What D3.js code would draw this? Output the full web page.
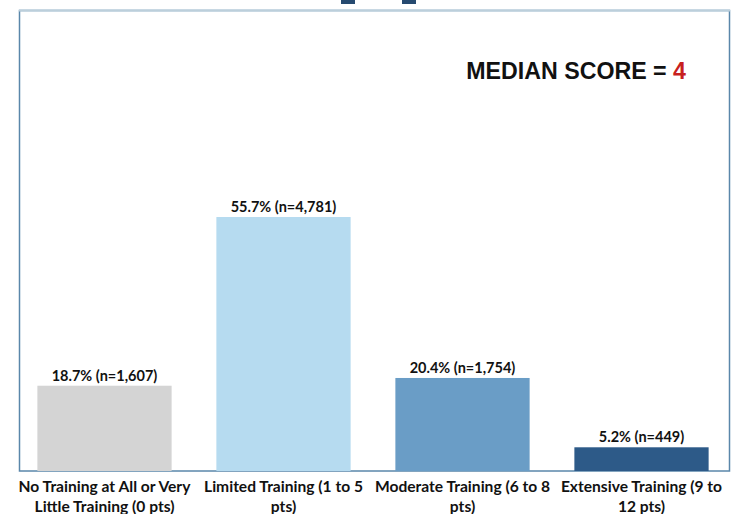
<!DOCTYPE html>
<html>
<head>
<meta charset="utf-8">
<script src="https://cdn.jsdelivr.net/npm/d3@7"></script>
<style>
  body { margin: 0; background: #fff; }
  svg { display: block; }
</style>
</head>
<body>
<div id="chart"></div>
<script>
// Chart data
const categories = ["No Training at All or Very Little Training (0 pts)", "Limited Training (1 to 5 pts)", "Moderate Training (6 to 8 pts)", "Extensive Training (9 to 12 pts)"];
const tickLines = [
    ["No Training at All or Very", "Little Training (0 pts)"],
    ["Limited Training (1 to 5", "pts)"],
    ["Moderate Training (6 to 8", "pts)"],
    ["Extensive Training (9 to", "12 pts)"]
];
const percents = [18.7, 55.7, 20.4, 5.2];
const counts = ["1,607", "4,781", "1,754", "449"];
const colors = ["#d4d4d4", "#b6dbf0", "#6a9dc6", "#2d5a88"];
const medianScore = 4;

const width = 734;
const height = 514;
const margin = { top: 15, right: 3, bottom: 43, left: 15 };

const svg = d3.select("#chart")
    .append("svg")
    .attr("width", width)
    .attr("height", height);

const data = categories.map((c, i) => ({ cat: c, pct: percents[i], n: counts[i], lines: tickLines[i], color: colors[i] }));

const x = d3.scaleBand()
    .domain(categories)
    .range([margin.left, width - margin.right])
    .paddingInner(0.25)
    .paddingOuter(0.125);

const y = d3.scaleLinear()
    .domain([0, 100])
    .range([height - margin.bottom, margin.top]);

// bits of the cut-off title above the frame
svg.append("rect").attr("x", 341).attr("y", 0).attr("width", 14).attr("height", 4).attr("fill", "#264a70");
svg.append("rect").attr("x", 402).attr("y", 0).attr("width", 14).attr("height", 4).attr("fill", "#264a70");

// frame
svg.append("rect")
    .attr("x", 19.5)
    .attr("y", 10.5)
    .attr("width", 710)
    .attr("height", 460.5)
    .attr("fill", "none")
    .attr("stroke", "#5a87aa")
    .attr("stroke-width", 1.5);
svg.append("line")
    .attr("x1", 19).attr("x2", 730)
    .attr("y1", 10.5).attr("y2", 10.5)
    .attr("stroke", "#bccfdb")
    .attr("stroke-width", 2);

// bars
svg.selectAll(".bar")
    .data(data)
    .enter().append("rect")
    .attr("class", "bar")
    .attr("x", d => x(d.cat))
    .attr("width", x.bandwidth())
    .attr("y", d => y(d.pct))
    .attr("height", d => y(0) - y(d.pct))
    .attr("fill", d => d.color);

// value labels
svg.selectAll(".val")
    .data(data)
    .enter().append("text")
    .attr("class", "val")
    .attr("x", d => x(d.cat) + x.bandwidth() / 2)
    .attr("y", d => y(d.pct) - 5)
    .attr("text-anchor", "middle")
    .style("font-family", "Lato, sans-serif")
    .style("font-weight", "bold")
    .style("font-size", "14.5px")
    .attr("fill", "#111")
    .text(d => `${d.pct}% (n=${d.n})`);

// category labels
const xAxis = svg.append("g")
    .attr("transform", `translate(0, ${y(0)})`);
const tick = xAxis.selectAll(".tick")
    .data(data)
    .enter().append("text")
    .attr("class", "tick")
    .attr("text-anchor", "middle")
    .style("font-family", "Lato, sans-serif")
    .style("font-weight", "bold")
    .style("font-size", "15.6px")
    .attr("fill", "#111");
tick.selectAll("tspan")
    .data(d => d.lines.map(l => ({ l, cx: x(d.cat) + x.bandwidth() / 2 })))
    .enter().append("tspan")
    .attr("x", d => d.cx)
    .attr("y", (d, i) => 21 + i * 20)
    .text(d => d.l);

// median annotation
const med = svg.append("text")
    .attr("x", 686)
    .attr("y", 79)
    .attr("text-anchor", "end")
    .style("font-family", "'Liberation Sans', Arial, sans-serif")
    .style("font-weight", "bold")
    .style("font-size", "23.2px")
    .attr("fill", "#111");
med.append("tspan").text("MEDIAN SCORE = ");
med.append("tspan").attr("fill", "#c8201e").text(medianScore);
</script>
</body>
</html>
